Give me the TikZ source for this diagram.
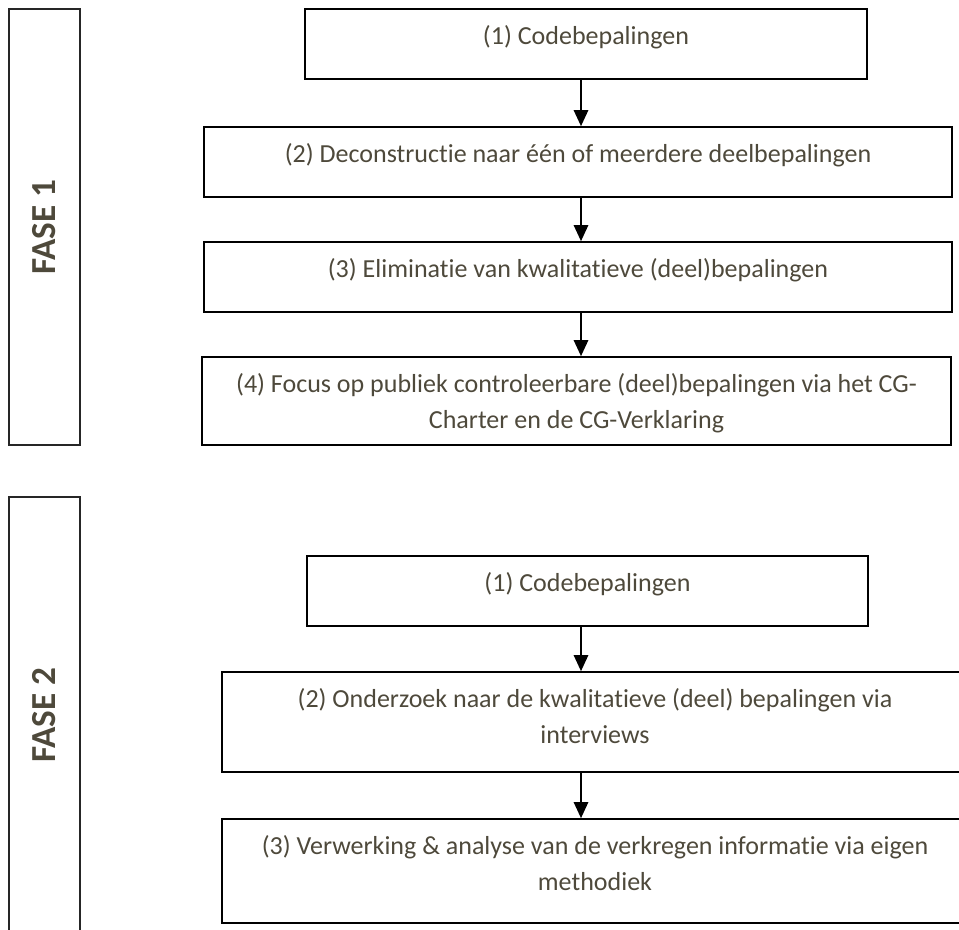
\documentclass[tikz,border=0pt]{standalone}
\usepackage{fontspec}
\setmainfont{Carlito}[Ligatures=NoCommon]
\usepackage{tikz}
\usetikzlibrary{arrows.meta}
\definecolor{tekstkleur}{RGB}{78,73,59}

\begin{document}
\begin{tikzpicture}[x=0.025cm,y=-0.025cm,
		stap/.style={draw=black,line width=1.2pt,inner sep=0pt},
		fase/.style={draw=black!85,line width=1pt,inner sep=0pt,rotate=90,
			minimum width=10.9cm,minimum height=1.775cm,
			text=tekstkleur,font=\fontsize{25}{30}\selectfont\bfseries},
		tekst/.style={anchor=base,text=tekstkleur,text width=18cm,align=flush center,inner sep=0pt,
			font=\fontsize{18.5}{25.6}\selectfont},
		pijl/.style={line width=1.2pt,-{Triangle[width=0.36cm,length=0.4cm]}}]
			\useasboundingbox (0,0) rectangle (959,929);
			\clip (0,0) rectangle (959,929);
			% fase 1
			\node[fase] (f1) at (44.5,227) {FASE 1};
			\node[stap,minimum width=14.05cm,minimum height=1.75cm] (b1) at (586,44) {};
			\node[stap,minimum width=18.7cm,minimum height=1.75cm] (b2) at (578,162) {};
			\node[stap,minimum width=18.7cm,minimum height=1.75cm] (b3) at (578,277) {};
			\node[stap,minimum width=18.725cm,minimum height=2.2cm] (b4) at (576.5,401) {};
			\node[tekst] (t1) at ([yshift=-0.9cm]b1.north) {(1) Codebepalingen};
			\node[tekst] (t2) at ([yshift=-0.9cm]b2.north) {(2) Deconstructie naar één of meerdere deelbepalingen};
			\node[tekst] (t3) at ([yshift=-0.9cm]b3.north) {(3) Eliminatie van kwalitatieve (deel)bepalingen};
			\node[tekst] (t4) at ([yshift=-0.9cm]b4.north) {(4) Focus op publiek controleerbare (deel)bepalingen via het CG-\\Charter en de CG-Verklaring};
			% fase 2
			\node[fase] (f2) at (44.5,715) {FASE 2};
			\node[stap,minimum width=14.025cm,minimum height=1.75cm] (b5) at (587.5,591) {};
			\node[stap,minimum width=18.65cm,minimum height=2.5cm] (b6) at (595,722) {};
			\node[stap,minimum width=18.65cm,minimum height=2.6cm] (b7) at (595,871) {};
			\node[tekst] (t5) at ([yshift=-0.9cm]b5.north) {(1) Codebepalingen};
			\node[tekst] (t6) at ([yshift=-0.9cm]b6.north) {(2) Onderzoek naar de kwalitatieve (deel) bepalingen via\\interviews};
			\node[tekst] (t7) at ([yshift=-0.9cm]b7.north) {(3) Verwerking \& analyse van de verkregen informatie via eigen\\methodiek};
			% pijlen
			\coordinate (as) at (581,0);
			\draw[pijl] (b1.south -| as) -- (b2.north -| as);
			\draw[pijl] (b2.south -| as) -- (b3.north -| as);
			\draw[pijl] (b3.south -| as) -- (b4.north -| as);
			\draw[pijl] (b5.south -| as) -- (b6.north -| as);
			\draw[pijl] (b6.south -| as) -- (b7.north -| as);
		\end{tikzpicture}
\end{document}
